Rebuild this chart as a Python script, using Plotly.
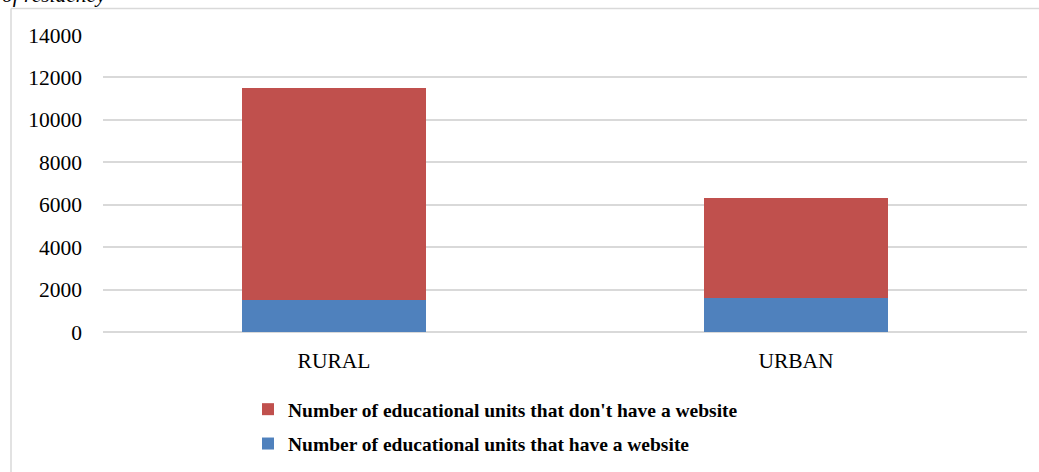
import plotly.graph_objects as go

# Educational units by area of residency
areas = ["RURAL", "URBAN"]
with_website = [1520, 1600]
without_website = [9980, 4700]
series_names = [
    "Number of educational units that have a website",
    "Number of educational units that don't have a website",
]
y_ticks = [0, 2000, 4000, 6000, 8000, 10000, 12000, 14000]

W, H = 1039, 472
L, R, T, B = 103, 12, 35, 140
pw, ph = W - L - R, H - T - B


def px_x(x):
    return (x - L) / pw


def px_y(y):
    return (H - B - y) / ph


fig = go.Figure()
fig.add_trace(go.Bar(
    x=areas, y=with_website, name=series_names[0],
    marker=dict(color="#4F81BD", line=dict(width=0)),
    legendgroup="a", legendrank=2,
))
fig.add_trace(go.Bar(
    x=areas, y=without_website, name=series_names[1],
    marker=dict(color="#C0504D", line=dict(width=0)),
    legendgroup="b", legendrank=1,
))

font_family = "Liberation Serif, Times New Roman, serif"

fig.update_layout(
    width=W, height=H,
    margin=dict(l=L, r=R, t=T, b=B, autoexpand=False),
    barmode="stack",
    bargap=0.6,
    paper_bgcolor="white",
    plot_bgcolor="white",
    font=dict(family=font_family, size=21.5, color="black"),
    legend=dict(
        x=px_x(248), xanchor="left",
        y=px_y(390), yanchor="top",
        traceorder="grouped",
        tracegroupgap=6,
        font=dict(family=font_family, size=19.5, color="black", weight="bold"),
        itemwidth=30,
    ),
    xaxis=dict(
        automargin=False,
        showgrid=False,
        showline=False,
        ticks="",
        ticklabelstandoff=13,
        tickfont=dict(size=21.5),
    ),
    yaxis=dict(
        automargin=False,
        range=[0, 14000],
        tickvals=y_ticks,
        ticktext=[str(v) for v in y_ticks],
        showgrid=True,
        gridcolor="#d9d9d9",
        gridwidth=1.5,
        zeroline=True,
        zerolinecolor="#d9d9d9",
        zerolinewidth=1.5,
        showline=False,
        ticks="",
        ticklabelstandoff=20,
        tickfont=dict(size=21.5),
    ),
    shapes=[
        dict(type="line", xref="paper", yref="paper",
             x0=px_x(11), x1=px_x(11), y0=px_y(8.5), y1=px_y(472),
             line=dict(color="#d9d9d9", width=1.5)),
        dict(type="line", xref="paper", yref="paper",
             x0=px_x(11), x1=px_x(1039), y0=px_y(8.5), y1=px_y(8.5),
             line=dict(color="#d9d9d9", width=1.5)),
    ],
    annotations=[
        dict(text="<i>of residency</i>", xref="paper", yref="paper",
             x=px_x(0), xanchor="left", y=px_y(9), yanchor="bottom",
             showarrow=False,
             font=dict(family=font_family, size=21.5, color="black")),
    ],
)

fig.write_html("out.html")
